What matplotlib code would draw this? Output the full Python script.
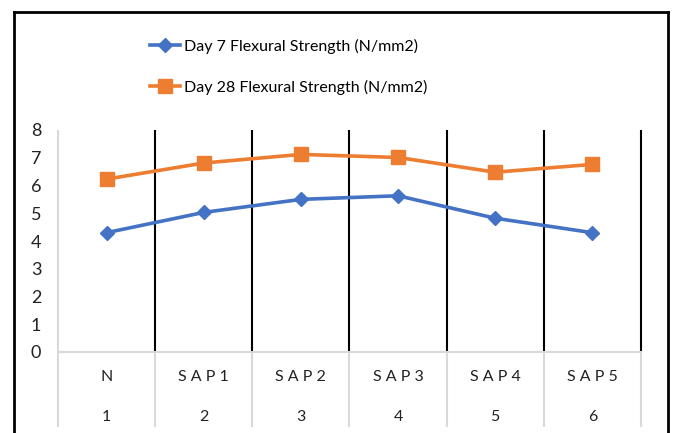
import matplotlib
matplotlib.use("Agg")
import matplotlib.pyplot as plt
from matplotlib.lines import Line2D
import matplotlib.transforms as mtransforms

plt.rcParams['font.family'] = ['Lato', 'DejaVu Sans']

categories = ["N", "S A P 1", "S A P 2", "S A P 3", "S A P 4", "S A P 5"]
numbers = ["1", "2", "3", "4", "5", "6"]
day7 = [4.3, 5.03, 5.5, 5.63, 4.82, 4.3]
day28 = [6.23, 6.81, 7.12, 7.01, 6.48, 6.76]
yticks = [0, 1, 2, 3, 4, 5, 6, 7, 8]
label7 = "Day 7 Flexural Strength (N/mm2)"
label28 = "Day 28 Flexural Strength (N/mm2)"

W, H = 673, 433
fig = plt.figure(figsize=(W / 100, H / 100), dpi=100)
ax = fig.add_axes([58 / W, (H - 352) / H, (641 - 58) / W, (352 - 130) / H])

x = list(range(len(categories)))
l7, = ax.plot(x, day7, color='#4472C4', lw=2.6, marker='D', ms=7, label=label7, zorder=3)
l28, = ax.plot(x, day28, color='#ED7D31', lw=2.6, marker='s', ms=9.5, label=label28, zorder=3)

ax.set_xlim(-0.5, len(categories) - 0.5)
ax.set_ylim(0, 8)
ax.set_yticks(yticks)
ax.set_yticklabels([str(v) for v in yticks], fontsize=13, color='#222222')
ax.tick_params(axis='y', length=0, pad=12)
ax.set_xticks(x)
ax.set_xticklabels(categories, fontsize=11.5, color='#222222')
ax.tick_params(axis='x', length=0, pad=13)
sec = ax.secondary_xaxis('bottom')
sec.set_xticks(x)
sec.set_xticklabels(numbers, fontsize=11.5, color='#222222')
sec.tick_params(axis='x', length=0, pad=42)
sec.spines['bottom'].set_visible(False)

for s in ['top', 'right', 'left']:
    ax.spines[s].set_visible(False)
ax.spines['bottom'].set_color('#d9d9d9')
ax.spines['bottom'].set_linewidth(1.5)

trans = mtransforms.blended_transform_factory(ax.transData, ax.transAxes)
bounds = [i - 0.5 for i in range(len(categories) + 1)]
ax.vlines(bounds, -0.34, 0, transform=trans, colors='#d9d9d9', lw=1.5, clip_on=False)
ax.vlines([bounds[0]], 0, 1, transform=trans, colors='#d9d9d9', lw=1.5, clip_on=False)
ax.vlines(bounds[1:], 0, 1, transform=trans, colors='black', lw=1.5, clip_on=False, zorder=1)

leg = fig.legend(handles=[l7, l28], loc='upper left', bbox_to_anchor=(142 / W, 1 - 31 / H),
                 frameon=False, fontsize=11.5, handlelength=1.9, handletextpad=0.25,
                 labelspacing=1.6, borderpad=0)

bc = 'black'
fig.add_artist(Line2D([14 / W, 14 / W], [0, 1 - 12 / H], color=bc, lw=2))
fig.add_artist(Line2D([14 / W, 668 / W], [1 - 12 / H, 1 - 12 / H], color=bc, lw=2))
fig.add_artist(Line2D([668 / W, 668 / W], [0, 1 - 12 / H], color=bc, lw=2))

fig.savefig('out.png', dpi=100)
